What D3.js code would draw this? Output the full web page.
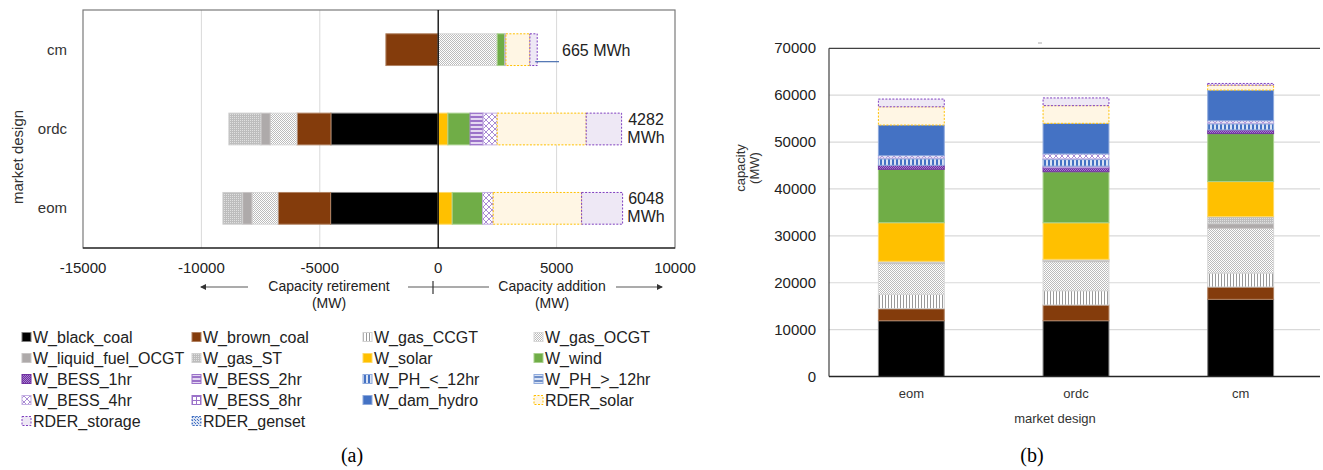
<!DOCTYPE html>
<html><head><meta charset="utf-8">
<script src="https://cdn.jsdelivr.net/npm/d3@7"></script>
<style>body{margin:0;background:#fff}svg{display:block}text{font-family:"Liberation Sans",Arial,sans-serif}</style>
</head><body><svg id="c" width="1323" height="470"></svg>
<script>
// ---------- data ----------
const techs = ["W_black_coal","W_brown_coal","W_gas_CCGT","W_gas_OCGT","W_liquid_fuel_OCGT","W_gas_ST","W_solar","W_wind","W_BESS_1hr","W_BESS_2hr","W_PH_<_12hr","W_PH_>_12hr","W_BESS_4hr","W_BESS_8hr","W_dam_hydro","RDER_solar","RDER_storage","RDER_genset"];
const leftDesigns = ["cm","ordc","eom"];
const rightDesigns = ["eom","ordc","cm"];
// capacity retirement (MW), per tech
const retire_eom  = [4544,2225,0,1098,393,832,0,0,0,0,0,0,0,0,0,0,0,0];
const retire_ordc = [4531,1436,0,1128,392,1352,0,0,0,0,0,0,0,0,0,0,0,0];
const retire_cm   = [0,2209,0,0,0,0,0,0,0,0,0,0,0,0,0,0,0,0];
// capacity addition (MW), per tech
const add_eom  = [0,0,0,0,0,0,591,1284,0,0,0,0,448,0,0,3733,1731,0];
const add_ordc = [0,0,0,0,0,0,410,937,0,549,0,0,596,0,0,3758,1495,0];
const add_cm   = [0,0,0,2492,0,0,0,325,0,0,0,0,42,0,0,1013,309,0];
// storage energy labels (MWh)
const storage_eom = 6048, storage_ordc = 4282, storage_cm = 665;
// total capacity (MW), per tech
const cap_eom  = [11900,2560,3070,6530,300,210,8230,11390,850,0,1400,150,500,0,6540,3900,1640,0];
const cap_ordc = [11900,3350,3050,6190,300,200,7800,10880,800,400,1400,150,1050,0,6530,3770,1640,0];
const cap_cm   = [16460,2630,2980,9530,1000,1500,7470,10230,790,0,1300,150,500,0,6540,1070,350,0];
const leftTicks = [-15000,-10000,-5000,0,5000,10000];
const rightTicks = [0,10000,20000,30000,40000,50000,60000,70000];

const leftData = {
  eom:{ret:retire_eom, add:add_eom, mwh:storage_eom},
  ordc:{ret:retire_ordc, add:add_ordc, mwh:storage_ordc},
  cm:{ret:retire_cm, add:add_cm, mwh:storage_cm}
};
const capData = {eom:cap_eom, ordc:cap_ordc, cm:cap_cm};

// ---------- styles ----------
const svg = d3.select("#c");
const defs = svg.append("defs");
function pat(id,w,h,bg,draw){
  const p = defs.append("pattern").attr("id",id).attr("patternUnits","userSpaceOnUse").attr("width",w).attr("height",h);
  p.append("rect").attr("width",w).attr("height",h).attr("fill",bg);
  draw(p);
}
pat("p_ccgt",3,3,"#fff",p=>p.append("rect").attr("x",0).attr("width",1).attr("height",3).attr("fill","#9a9a9a"));
pat("p_ocgt",2,2,"#fff",p=>{p.append("rect").attr("width",1).attr("height",1).attr("fill","#bcbcbc");p.append("rect").attr("x",1).attr("y",1).attr("width",1).attr("height",1).attr("fill","#bcbcbc");});
pat("p_st",2,2,"#bdbdbd",p=>p.append("rect").attr("width",1).attr("height",1).attr("fill","#e0e0e0"));
pat("p_b1",2,2,"#7030A0",p=>{p.append("rect").attr("width",1).attr("height",1).attr("fill","#a77fd0");p.append("rect").attr("x",1).attr("y",1).attr("width",1).attr("height",1).attr("fill","#a77fd0");});
pat("p_b2",4,4,"#e4d8f1",p=>p.append("rect").attr("width",4).attr("height",2).attr("fill","#9b72c9"));
pat("p_ph1",4,4,"#dae3f3",p=>p.append("rect").attr("width",2).attr("height",4).attr("fill","#4472C4"));
pat("p_ph2",4,4,"#dae3f3",p=>p.append("rect").attr("width",4).attr("height",2).attr("fill","#6f8fc9"));
pat("p_b4",6,6,"#fff",p=>p.append("path").attr("d","M0,0L6,6M6,0L0,6").attr("stroke","#a98bd4").attr("stroke-width",1));
pat("p_b8",4,4,"#fff",p=>p.append("path").attr("d","M0,0.5H4M0.5,0V4").attr("stroke","#9b72c9").attr("stroke-width",1));
pat("p_gen",3,3,"#dae3f3",p=>{p.append("rect").attr("width",1).attr("height",1).attr("fill","#4472C4");p.append("rect").attr("x",2).attr("y",2).attr("width",1).attr("height",1).attr("fill","#4472C4");});

const techStyle = {
  "W_black_coal":{fill:"#000000",stroke:"#7f7f7f"},
  "W_brown_coal":{fill:"#843C0C",stroke:"#b08060"},
  "W_gas_CCGT":{fill:"url(#p_ccgt)",stroke:"#d0d0d0"},
  "W_gas_OCGT":{fill:"url(#p_ocgt)",stroke:"#d8d8d8"},
  "W_liquid_fuel_OCGT":{fill:"#AEAAAA",stroke:"#c8c5c5"},
  "W_gas_ST":{fill:"url(#p_st)",stroke:"#cfcfcf"},
  "W_solar":{fill:"#FFC000",stroke:"#ffd966"},
  "W_wind":{fill:"#70AD47",stroke:"#a9d18e"},
  "W_BESS_1hr":{fill:"url(#p_b1)",stroke:"#7030A0"},
  "W_BESS_2hr":{fill:"url(#p_b2)",stroke:"#9b72c9"},
  "W_PH_<_12hr":{fill:"url(#p_ph1)",stroke:"#8faadc"},
  "W_PH_>_12hr":{fill:"url(#p_ph2)",stroke:"#8faadc"},
  "W_BESS_4hr":{fill:"url(#p_b4)",stroke:"#c5b0e3"},
  "W_BESS_8hr":{fill:"url(#p_b8)",stroke:"#9b72c9"},
  "W_dam_hydro":{fill:"#4472C4",stroke:"#8faadc"},
  "RDER_solar":{fill:"#FFF6E4",stroke:"#FFC000",dash:"2,1.5"},
  "RDER_storage":{fill:"#EEE8F5",stroke:"#7F3FBF",dash:"2,1.5"},
  "RDER_genset":{fill:"url(#p_gen)",stroke:"#4472C4",dash:"2,1.5"}
};
function styleRect(sel,t){
  const s = techStyle[t];
  sel.attr("fill",s.fill).attr("stroke",s.stroke).attr("stroke-width",1);
  if(s.dash) sel.attr("stroke-dasharray",s.dash);
}

// ---------- left chart (a) ----------
const xL = d3.scaleLinear().domain([-15000,10000]).range([83,675]);
const yL = d3.scaleBand().domain(leftDesigns).range([10,248]).paddingInner(0.6).paddingOuter(0.3);
const gL = svg.append("g");
gL.selectAll("line.grid").data(leftTicks.filter(t=>t!==0 && t!==-15000 && t!==10000)).join("line")
  .attr("x1",d=>xL(d)).attr("x2",d=>xL(d)).attr("y1",10).attr("y2",248).attr("stroke","#d9d9d9").attr("stroke-width",1);
gL.append("rect").attr("x",xL(-15000)).attr("y",10).attr("width",xL(10000)-xL(-15000)).attr("height",238)
  .attr("fill","none").attr("stroke","#7a7a7a").attr("stroke-width",1.2);
gL.append("line").attr("x1",xL(-15000)).attr("x2",xL(10000)).attr("y1",248).attr("y2",248).attr("stroke","#000").attr("stroke-width",1.2);

leftDesigns.forEach(d=>{
  const row = leftData[d];
  let cum = 0;
  techs.forEach((t,i)=>{
    const v = row.ret[i]; if(!v) return;
    const r = gL.append("rect").attr("x",xL(-(cum+v))).attr("width",xL(-cum)-xL(-(cum+v))).attr("y",yL(d)).attr("height",yL.bandwidth());
    styleRect(r,t); cum += v;
  });
  cum = 0;
  techs.forEach((t,i)=>{
    const v = row.add[i]; if(!v) return;
    const r = gL.append("rect").attr("x",xL(cum)).attr("width",xL(cum+v)-xL(cum)).attr("y",yL(d)).attr("height",yL.bandwidth());
    styleRect(r,t); cum += v;
  });
  row.end = cum;
});
gL.append("line").attr("x1",xL(0)).attr("x2",xL(0)).attr("y1",10).attr("y2",248).attr("stroke","#000").attr("stroke-width",1.3);

["ordc","eom"].forEach(d=>{
  const yc = yL(d)+yL.bandwidth()/2;
  const t = gL.append("text").attr("x",646).attr("text-anchor","middle").attr("font-size",16).attr("fill","#222");
  t.append("tspan").attr("x",646).attr("y",yc-4).text(leftData[d].mwh);
  t.append("tspan").attr("x",646).attr("y",yc+14).text("MWh");
});
{
  const yc = yL("cm")+yL.bandwidth()/2;
  gL.append("line").attr("x1",xL(leftData.cm.end)-2).attr("x2",559).attr("y1",yc+12).attr("y2",yc+12).attr("stroke","#4a6fb0").attr("stroke-width",1.2);
  gL.append("text").attr("x",562).attr("y",yc+6).attr("font-size",16).attr("fill","#222").text(leftData.cm.mwh+" MWh");
}
leftDesigns.forEach(d=>{
  gL.append("text").attr("x",67).attr("y",yL(d)+yL.bandwidth()/2+5).attr("text-anchor","end").attr("font-size",15).attr("fill","#333").text(d);
});
gL.append("text").attr("transform","translate(23,157) rotate(-90)").attr("text-anchor","middle").attr("font-size",15).attr("fill","#333").text("market design");
gL.selectAll("text.tick").data(leftTicks).join("text").attr("class","tick")
  .attr("x",d=>xL(d)).attr("y",273).attr("text-anchor","middle").attr("font-size",15).attr("fill","#222").text(d=>d);
const ax = gL.append("g").attr("stroke","#595959").attr("stroke-width",1.2);
defs.append("marker").attr("id","arr").attr("viewBox","0 0 6 6").attr("refX",5).attr("refY",3).attr("markerWidth",5).attr("markerHeight",5).attr("orient","auto")
  .append("path").attr("d","M0,0L6,3L0,6Z").attr("fill","#333");
ax.append("line").attr("x1",248).attr("x2",201).attr("y1",287).attr("y2",287).attr("marker-end","url(#arr)");
ax.append("line").attr("x1",408).attr("x2",489).attr("y1",287).attr("y2",287);
ax.append("line").attr("x1",433).attr("x2",433).attr("y1",281).attr("y2",294).attr("stroke","#333");
ax.append("line").attr("x1",616).attr("x2",662).attr("y1",287).attr("y2",287).attr("marker-end","url(#arr)");
[["Capacity retirement",329],["Capacity addition",552]].forEach(([s,x])=>{
  const t = gL.append("text").attr("text-anchor","middle").attr("font-size",14).attr("fill","#222");
  t.append("tspan").attr("x",x).attr("y",291).text(s);
  t.append("tspan").attr("x",x).attr("y",308).text("(MW)");
});
const lg = svg.append("g");
const colX = [22,192,363,534];
techs.forEach((t,i)=>{
  const c = i%4, r = Math.floor(i/4);
  const x = colX[c], y = 337 + r*21;
  const sw = lg.append("rect").attr("x",x).attr("y",y-4.5).attr("width",9).attr("height",9);
  styleRect(sw,t);
  lg.append("text").attr("x",x+11).attr("y",y+6).attr("font-size",16).attr("fill","#222").text(t);
});
svg.append("text").attr("x",352).attr("y",462).attr("text-anchor","middle").attr("style","font-family:'Liberation Serif',serif").attr("font-size",20).attr("fill","#000").text("(a)");

// ---------- right chart (b) ----------
const xR = d3.scaleBand().domain(rightDesigns).range([829,1323]).paddingInner(0.6).paddingOuter(0.3);
const yR = d3.scaleLinear().domain([0,70000]).range([376.5,48.3]);
const gR = svg.append("g");
gR.selectAll("line.grid").data(rightTicks.filter(t=>t>0&&t<70000)).join("line")
  .attr("x1",829).attr("x2",1320).attr("y1",d=>yR(d)).attr("y2",d=>yR(d)).attr("stroke","#d9d9d9").attr("stroke-width",1.2);
rightDesigns.forEach(d=>{
  let cum = 0;
  techs.forEach((t,i)=>{
    const v = capData[d][i]; if(!v) return;
    const r = gR.append("rect").attr("x",xR(d)).attr("width",xR.bandwidth()).attr("y",yR(cum+v)).attr("height",yR(cum)-yR(cum+v));
    styleRect(r,t); cum += v;
  });
});
gR.append("line").attr("x1",829).attr("x2",829).attr("y1",48.3).attr("y2",376.5).attr("stroke","#404040").attr("stroke-width",1.2);
gR.append("line").attr("x1",829).attr("x2",1320).attr("y1",48.3).attr("y2",48.3).attr("stroke","#404040").attr("stroke-width",1.2);
gR.append("line").attr("x1",829).attr("x2",1320).attr("y1",376.5).attr("y2",376.5).attr("stroke","#262626").attr("stroke-width",1.5);
gR.selectAll("text.tick").data(rightTicks).join("text").attr("class","tick")
  .attr("x",816).attr("y",d=>yR(d)+5).attr("text-anchor","end").attr("font-size",15).attr("fill","#222").text(d=>d);
rightDesigns.forEach(d=>{
  gR.append("text").attr("x",xR(d)+xR.bandwidth()/2).attr("y",398).attr("text-anchor","middle").attr("font-size",13).attr("fill","#333").text(d);
});
gR.append("text").attr("x",1055).attr("y",423).attr("text-anchor","middle").attr("font-size",13).attr("fill","#333").text("market design");
{
  const t = gR.append("text").attr("text-anchor","middle").attr("font-size",13).attr("fill","#333").attr("transform","translate(0,168) rotate(-90)");
  t.append("tspan").attr("x",0).attr("y",745).text("capacity");
  t.append("tspan").attr("x",0).attr("y",759).text("(MW)");
}
gR.append("line").attr("x1",1038).attr("x2",1042).attr("y1",43).attr("y2",43).attr("stroke","#aaa");
svg.append("text").attr("x",1032).attr("y",462).attr("text-anchor","middle").attr("style","font-family:'Liberation Serif',serif").attr("font-size",20).attr("fill","#000").text("(b)");
</script></body></html>
